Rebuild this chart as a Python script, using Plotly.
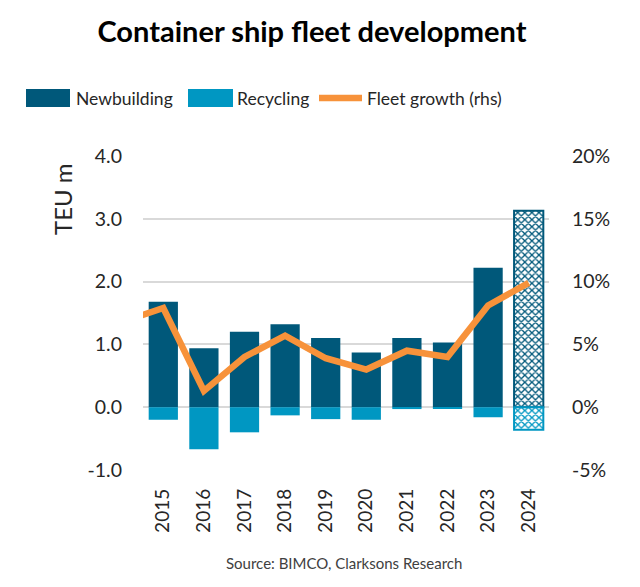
import plotly.graph_objects as go

# ---------------- data ----------------
years = [2015, 2016, 2017, 2018, 2019, 2020, 2021, 2022, 2023, 2024]
newbuilding = [1.68, 0.94, 1.20, 1.32, 1.10, 0.87, 1.10, 1.03, 2.22, 3.13]
recycling = [-0.20, -0.67, -0.40, -0.13, -0.19, -0.20, -0.03, -0.02, -0.16, -0.36]
growth_years = [2014, 2015, 2016, 2017, 2018, 2019, 2020, 2021, 2022, 2023, 2024]
fleet_growth = [6.8, 7.9, 1.3, 4.0, 5.7, 3.9, 3.0, 4.5, 4.0, 8.1, 9.9]
forecast_year = 2024
left_ticks = [-1, 0, 1, 2, 3, 4]
right_ticks = [-5, 0, 5, 10, 15, 20]

# ---------------- styles ----------------
DARK = "#00587A"
LIGHT = "#0097C2"
ORANGE = "#F7923A"
FONT = "Lato"
TXT = "#262626"

W, H = 640, 587
L, R, T, B = 143, 91, 156, 117
PW, PH = W - L - R, H - T - B


def px(x):
    return (x - L) / PW


def py(y):
    return (H - B - y) / PH


def bar_style(base):
    is_fc = [y == forecast_year for y in years]
    return dict(
        color=base,
        line=dict(color=base, width=[2 if f else 0 for f in is_fc]),
        pattern=dict(
            shape=["x" if f else "" for f in is_fc],
            bgcolor="white",
            size=5,
            solidity=0.45,
            fillmode="replace",
        ),
    )


fig = go.Figure()
fig.add_trace(go.Bar(x=years, y=newbuilding, name="Newbuilding", width=0.72,
                     marker=bar_style(DARK), showlegend=False))
fig.add_trace(go.Bar(x=years, y=recycling, name="Recycling", width=0.72,
                     marker=bar_style(LIGHT), showlegend=False))
fig.add_trace(go.Scatter(x=growth_years, y=fleet_growth, name="Fleet growth (rhs)",
                         mode="lines", yaxis="y2",
                         line=dict(color=ORANGE, width=6.5), showlegend=False))

fig.update_layout(
    width=W, height=H, autosize=False,
    margin=dict(l=L, r=R, t=T, b=B, pad=0),
    paper_bgcolor="white", plot_bgcolor="white",
    barmode="relative", bargap=0.28,
    font=dict(family=FONT, size=19, color=TXT),
    title=dict(text="<b>Container ship fleet development</b>", x=312 / W, xref="container",
               xanchor="center", y=1 - 32 / H, yref="container", yanchor="middle",
               font=dict(family=FONT, size=29, color="black")),
    xaxis=dict(range=[min(years) - 0.5, max(years) + 0.5], tickvals=years,
               ticktext=[str(y) for y in years], tickangle=-90,
               showgrid=False, zeroline=False, showline=False, ticks="",
               ticklabelstandoff=14,
               tickfont=dict(family=FONT, size=19, color=TXT)),
    xaxis2=dict(range=[min(years) - 0.5, max(years) + 0.5], overlaying="x",
                anchor="free", position=py(408), side="bottom",
                tickvals=[y + 0.5 for y in [min(years) - 1] + years],
                ticks="outside", ticklen=6, tickwidth=1.5, tickcolor="black",
                showline=True, linecolor="black", linewidth=1.5,
                showticklabels=False, showgrid=False, zeroline=False),
    yaxis=dict(range=[-1, 4], tickvals=left_ticks,
               ticktext=[f"{v:.1f}" for v in left_ticks],
               showgrid=True, gridcolor="#D9D9D9", gridwidth=1.5,
               zeroline=False, showline=False, ticks="",
               ticklabelstandoff=20,
               tickfont=dict(family=FONT, size=19.5, color=TXT)),
    yaxis2=dict(range=[-5, 20], tickvals=right_ticks,
                ticktext=[f"{v}%" for v in right_ticks],
                overlaying="y", side="right", showgrid=False, zeroline=False,
                showline=False, ticks="", ticklabelstandoff=22,
                tickfont=dict(family=FONT, size=19.5, color=TXT)),
)

# custom legend (wide swatches like the original)
legend_y = 98
items = [
    ("rect", DARK, 26, 70, "Newbuilding", 74),
    ("rect", LIGHT, 188, 233, "Recycling", 235),
    ("line", ORANGE, 319, 362, "Fleet growth (rhs)", 365),
]
for kind, col, x0, x1, label, tx in items:
    if kind == "rect":
        fig.add_shape(type="rect", xref="paper", yref="paper",
                      x0=px(x0), x1=px(x1), y0=py(legend_y + 9), y1=py(legend_y - 9),
                      fillcolor=col, line=dict(width=0))
    else:
        fig.add_shape(type="line", xref="paper", yref="paper",
                      x0=px(x0), x1=px(x1), y0=py(legend_y), y1=py(legend_y),
                      line=dict(color=col, width=6.5))
    fig.add_annotation(text=label, xref="paper", yref="paper", x=px(tx), y=py(legend_y),
                       xanchor="left", yanchor="middle", showarrow=False,
                       font=dict(family=FONT, size=17.5, color=TXT))

fig.add_annotation(text="TEU m", xref="paper", yref="paper", x=px(62), y=py(199),
                   textangle=-90, xanchor="center", yanchor="middle", showarrow=False,
                   font=dict(family=FONT, size=24, color=TXT))
fig.add_annotation(text="Source: BIMCO, Clarksons Research", xref="paper", yref="paper",
                   x=px(344), y=py(563), xanchor="center", yanchor="middle",
                   showarrow=False, font=dict(family=FONT, size=15, color="#404040"))

fig.write_html("out.html")
